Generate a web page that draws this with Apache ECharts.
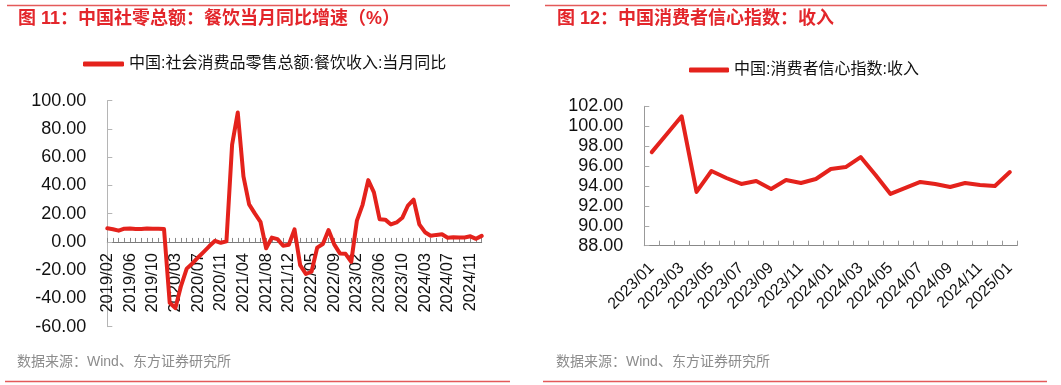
<!DOCTYPE html>
<html>
<head>
<meta charset="utf-8">
<script src="https://cdn.jsdelivr.net/npm/echarts@6/dist/echarts.min.js"></script>
<style>
html,body{margin:0;padding:0;background:#fff;}
#c{width:1061px;height:385px;}
</style>
</head>
<body>
<div id="c"></div>
<script>
// ---- Left chart: 餐饮收入当月同比 ----
const leftCategories = [
  '2019/02','2019/03','2019/04','2019/05','2019/06','2019/07','2019/08','2019/09','2019/10','2019/11','2019/12',
  '2020/02','2020/03','2020/04','2020/05','2020/06','2020/07','2020/08','2020/09','2020/10','2020/11','2020/12',
  '2021/02','2021/03','2021/04','2021/05','2021/06','2021/07','2021/08','2021/09','2021/10','2021/11','2021/12',
  '2022/02','2022/03','2022/04','2022/05','2022/06','2022/07','2022/08','2022/09','2022/10','2022/11','2022/12',
  '2023/02','2023/03','2023/04','2023/05','2023/06','2023/07','2023/08','2023/09','2023/10','2023/11','2023/12',
  '2024/02','2024/03','2024/04','2024/05','2024/06','2024/07','2024/08','2024/09','2024/10','2024/11','2024/12',
  '2025/02'
];
const leftValues = [
  9.7, 9.0, 8.0, 9.4, 9.5, 9.1, 9.1, 9.5, 9.3, 9.4, 9.1,
  -43.1, -46.8, -31.1, -18.9, -15.2, -11.0, -7.0, -2.9, 0.8, -0.6, 0.4,
  68.9, 91.6, 46.4, 26.6, 20.2, 14.3, -4.5, 3.1, 2.0, -2.7, -2.0,
  8.9, -16.4, -22.7, -21.1, -4.0, -1.5, 8.4, -1.7, -8.1, -8.4, -14.1,
  15.1, 26.3, 43.8, 35.1, 16.1, 15.8, 12.4, 13.8, 17.1, 25.8, 30.0,
  12.5, 6.9, 4.4, 5.0, 5.4, 3.0, 3.3, 3.1, 3.2, 4.0, 2.2,
  4.3
];
const leftName = '中国:社会消费品零售总额:餐饮收入:当月同比';
const leftTitle = '图 11：中国社零总额：餐饮当月同比增速（%）';
const leftYTicks = { min: -60, max: 100, interval: 20 };

// ---- Right chart: 消费者信心指数：收入 ----
const rightCategories = [
  '2023/01','2023/02','2023/03','2023/04','2023/05','2023/06','2023/07','2023/08','2023/09','2023/10','2023/11','2023/12',
  '2024/01','2024/02','2024/03','2024/04','2024/05','2024/06','2024/07','2024/08','2024/09','2024/10','2024/11','2024/12',
  '2025/01'
];
const rightValues = [
  97.4, 99.2, 101.0, 93.4, 95.5, 94.8, 94.2, 94.5, 93.7, 94.6, 94.3, 94.7,
  95.7, 95.9, 96.9, 95.1, 93.2, 93.8, 94.4, 94.2, 93.9, 94.3, 94.1, 94.0,
  95.4
];
const rightName = '中国:消费者信心指数:收入';
const rightTitle = '图 12：中国消费者信心指数：收入';
const rightYTicks = { min: 88, max: 102, interval: 2 };

const sourceText = '数据来源：Wind、东方证券研究所';

const FONT = '"Liberation Sans", "Noto Sans CJK SC", sans-serif';
const RED = '#e4221c';
const TITLE_RED = '#e3262b';
const RULE = '#e45a5a';

const chart = echarts.init(document.getElementById('c'), null, { renderer: 'canvas' });

// left grid geometry; x-axis is lifted to the zero line
const LG = { left: 107.3, top: 100.7, width: 374.4, height: 226 };
const zeroOffset = -LG.height * (0 - leftYTicks.min) / (leftYTicks.max - leftYTicks.min);

const option = {
  animation: false,
  backgroundColor: '#fff',
  textStyle: { fontFamily: FONT },
  graphic: [
    { type: 'line', shape: { x1: 7, y1: 5.5, x2: 510, y2: 5.5 }, style: { stroke: RULE, lineWidth: 1.5 } },
    { type: 'line', shape: { x1: 545, y1: 5.5, x2: 1047, y2: 5.5 }, style: { stroke: RULE, lineWidth: 1.5 } },
    { type: 'line', shape: { x1: 5, y1: 381.5, x2: 510, y2: 381.5 }, style: { stroke: RULE, lineWidth: 1.5 } },
    { type: 'line', shape: { x1: 543, y1: 381.5, x2: 1047, y2: 381.5 }, style: { stroke: RULE, lineWidth: 1.5 } },
    { type: 'text', left: 18, top: 10, style: { text: leftTitle, fill: TITLE_RED, font: 'bold 18px ' + FONT } },
    { type: 'text', left: 557, top: 10, style: { text: rightTitle, fill: TITLE_RED, font: 'bold 18px ' + FONT } },
    { type: 'text', left: 17, top: 355, style: { text: sourceText, fill: '#8c8c8c', font: '14px ' + FONT } },
    { type: 'text', left: 556, top: 355, style: { text: sourceText, fill: '#8c8c8c', font: '14px ' + FONT } }
  ],
  legend: [
    {
      data: [leftName], left: 83, top: 56, padding: 0, itemWidth: 41, itemHeight: 5,
      icon: 'roundRect',
      textStyle: { fontSize: 16, color: '#111', fontFamily: FONT }
    },
    {
      data: [rightName], left: 689, top: 62, padding: 0, itemWidth: 40, itemHeight: 5,
      icon: 'roundRect',
      textStyle: { fontSize: 16, color: '#111', fontFamily: FONT }
    }
  ],
  grid: [
    { left: LG.left, top: LG.top, width: LG.width, height: LG.height, outerBoundsMode: 'none', containLabel: false },
    { left: 644.3, top: 106.3, width: 373, height: 139.4, outerBoundsMode: 'none', containLabel: false }
  ],
  xAxis: [
    {
      type: 'category', gridIndex: 0, data: leftCategories, boundaryGap: false,
      offset: zeroOffset,
      axisLine: { onZero: false, lineStyle: { color: '#7a7a7a', width: 1 } },
      axisTick: { show: true, inside: true, length: 4, interval: 0, lineStyle: { color: '#888' } },
      axisLabel: { interval: 3, rotate: 90, margin: 11, fontSize: 16.5, color: '#111', fontFamily: FONT },
      splitLine: { show: false }
    },
    {
      type: 'category', gridIndex: 1, data: rightCategories, boundaryGap: true,
      axisLine: { lineStyle: { color: '#888', width: 1 } },
      axisTick: { show: true, inside: true, length: 5, interval: 0, lineStyle: { color: '#999' } },
      axisLabel: { interval: 1, rotate: 45, margin: 20, fontSize: 16, color: '#111', fontFamily: FONT },
      splitLine: { show: false }
    }
  ],
  yAxis: [
    {
      type: 'value', gridIndex: 0, min: leftYTicks.min, max: leftYTicks.max, interval: leftYTicks.interval,
      axisLine: { show: true, onZero: false, lineStyle: { color: '#b5b5b5', width: 1 } },
      axisTick: { show: true, inside: true, length: 5, lineStyle: { color: '#b5b5b5' } },
      axisLabel: { fontSize: 18, color: '#111', margin: 21, fontFamily: FONT, formatter: v => v.toFixed(2) },
      splitLine: { show: false }
    },
    {
      type: 'value', gridIndex: 1, min: rightYTicks.min, max: rightYTicks.max, interval: rightYTicks.interval,
      axisLine: { show: true, lineStyle: { color: '#999', width: 1 } },
      axisTick: { show: true, inside: true, length: 5, lineStyle: { color: '#aaa' } },
      axisLabel: { fontSize: 18, color: '#111', margin: 21, fontFamily: FONT, formatter: v => v.toFixed(2) },
      splitLine: { show: false }
    }
  ],
  series: [
    {
      name: leftName, type: 'line', xAxisIndex: 0, yAxisIndex: 0, data: leftValues,
      showSymbol: false, symbol: 'none', smooth: false,
      lineStyle: { color: RED, width: 4, cap: 'round', join: 'round' }, itemStyle: { color: RED }
    },
    {
      name: rightName, type: 'line', xAxisIndex: 1, yAxisIndex: 1, data: rightValues,
      showSymbol: false, symbol: 'none', smooth: false,
      lineStyle: { color: RED, width: 4, cap: 'round', join: 'round' }, itemStyle: { color: RED }
    }
  ]
};
chart.setOption(option);
</script>
</body>
</html>
